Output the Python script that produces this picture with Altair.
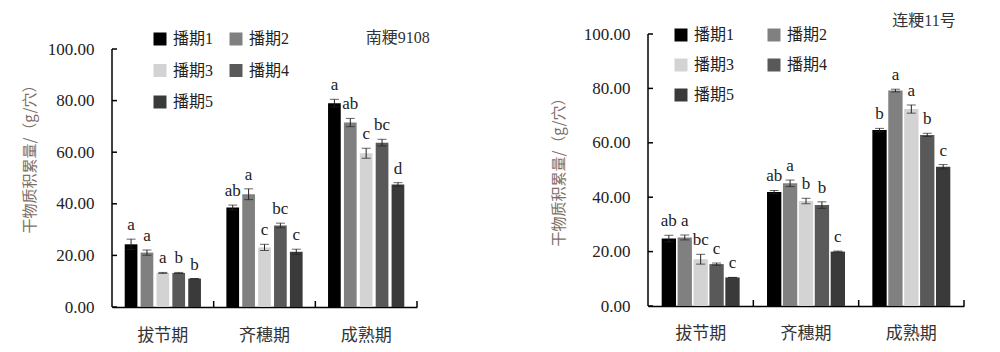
import altair as alt
import pandas as pd

stages = ["拔节期", "齐穗期", "成熟期"]
dates = ["播期1", "播期2", "播期3", "播期4", "播期5"]
colors = ["#000000", "#808080", "#d3d3d3", "#595959", "#3a3a3a"]
y_ticks = [0, 20, 40, 60, 80, 100]
y_title = "干物质积累量/（g/穴）"

left_name = "南粳9108"
left_means = [[24.3, 21.1, 13.2, 13.2, 11.0],
              [38.6, 43.7, 23.1, 31.6, 21.4],
              [79.0, 71.5, 59.6, 63.7, 47.5]]
left_errs = [[2.0, 1.0, 0.2, 0.2, 0.0],
             [0.9, 2.1, 1.2, 0.9, 1.0],
             [1.5, 1.6, 1.9, 1.3, 0.7]]
left_letters = [["a", "a", "a", "b", "b"],
                ["ab", "a", "c", "bc", "c"],
                ["a", "ab", "c", "bc", "d"]]

right_name = "连粳11号"
right_means = [[24.8, 25.2, 17.2, 15.4, 10.5],
               [41.9, 45.1, 38.6, 37.1, 20.0],
               [64.7, 79.2, 72.4, 62.9, 51.2]]
right_errs = [[1.2, 0.9, 1.8, 0.4, 0.0],
              [0.6, 1.2, 1.0, 1.2, 0.2],
              [0.6, 0.5, 1.5, 0.6, 0.8]]
right_letters = [["ab", "a", "bc", "c", "c"],
                 ["ab", "a", "b", "b", "c"],
                 ["b", "a", "a", "b", "c"]]

FONT = "Liberation Serif, Noto Sans CJK SC"
CJK = "Noto Sans CJK SC"
TXT = "#222222"


def make_df(means, errs, letters):
    rows = []
    for i, s in enumerate(stages):
        for j, d in enumerate(dates):
            m = means[i][j]
            e = errs[i][j]
            rows.append(dict(stage=s, date=d, mean=m, lo=m - e, hi=m + e,
                             letter=letters[i][j]))
    return pd.DataFrame(rows)


def panel(df, name, width, height, ymax, pin, pout, lx, ly, colpad, rowpad,
          tpad, ty, tdx, toff, xlp):
    xaxis = alt.Axis(title=None, labelAngle=0, domain=True, domainColor="black",
                     domainWidth=1.5, ticks=False, tickSize=0, labelPadding=xlp,
                     labelFont=CJK, labelFontSize=17, labelColor="#333333")
    xscale = alt.Scale(paddingInner=0, paddingOuter=0)
    yaxis = alt.Axis(values=y_ticks, format=".2f", domain=False, ticks=False,
                     grid=False, title=y_title, titleFont=CJK, titleFontSize=15,
                     titleFontWeight="normal", titleColor="#7d6e66",
                     titlePadding=tpad, titleY=ty, labelFont="Liberation Serif",
                     labelFontSize=17, labelPadding=18, labelColor=TXT)
    yscale = alt.Scale(domain=[0, ymax], nice=False, zero=True)

    def X(band=None):
        if band is None:
            return alt.X("stage:N", sort=stages, scale=xscale, axis=xaxis)
        return alt.X("stage:N", sort=stages, scale=xscale, axis=xaxis,
                     bandPosition=band)

    def Y(field):
        return alt.Y(field, scale=yscale, axis=yaxis)

    xo = alt.XOffset("date:N", sort=dates,
                     scale=alt.Scale(paddingInner=pin, paddingOuter=pout))

    base = alt.Chart(df)
    bars = base.mark_bar().encode(
        x=X(), xOffset=xo, y=Y("mean:Q"),
        color=alt.Color("date:N", sort=dates,
                        scale=alt.Scale(domain=dates, range=colors),
                        legend=alt.Legend(title=None, orient="none", legendX=lx,
                                          legendY=ly, columns=2,
                                          direction="horizontal",
                                          symbolType="square", symbolSize=169,
                                          symbolStrokeWidth=0, labelFont=FONT,
                                          labelFontSize=16, labelColor=TXT,
                                          labelOffset=5, rowPadding=rowpad,
                                          columnPadding=colpad, padding=0)))
    err = base.mark_rule(color=TXT, strokeWidth=1).encode(
        x=X(), xOffset=xo, y=Y("lo:Q"), y2="hi:Q")
    cap_hi = base.mark_tick(color=TXT, thickness=1, size=9).encode(
        x=X(), xOffset=xo, y=Y("hi:Q"))
    cap_lo = base.mark_tick(color=TXT, thickness=1, size=9).encode(
        x=X(), xOffset=xo, y=Y("lo:Q"))
    txt = base.mark_text(font="Liberation Serif", fontSize=17,
                         baseline="alphabetic", dy=-9, color=TXT).encode(
        x=X(), xOffset=xo, y=Y("hi:Q"), text="letter:N")

    yline = alt.Chart(pd.DataFrame({"y0": [0], "y1": [100]})).mark_rule(
        color="black", strokeWidth=1.5).encode(
        x=alt.value(0), y=Y("y0:Q"), y2="y1:Q")
    yt = alt.Chart(pd.DataFrame({"t": y_ticks})).mark_rule(
        color="black", strokeWidth=1.5).encode(
        x=alt.value(0), x2=alt.value(5), y=Y("t:Q"))
    xt = alt.Chart(pd.DataFrame({"stage": stages})).mark_rule(
        color="black", strokeWidth=1.5).encode(
        x=X(1), y=alt.value(height), y2=alt.value(height - 6))

    return alt.layer(bars, err, cap_hi, cap_lo, txt, yline, yt, xt).properties(
        width=width, height=height,
        title=alt.TitleParams(text=name, anchor="end", dx=tdx, offset=toff,
                              font=FONT, fontSize=16, fontWeight="normal",
                              color="#333333", baseline="middle"))


left = panel(make_df(left_means, left_errs, left_letters), left_name,
             305, 297, 297 / 2.58, 0.2, 0.8, 40, 21, 14, 15.5, 10, 145, 12, -44, 20)
right = panel(make_df(right_means, right_errs, right_letters), right_name,
              316, 296, 296 / 2.72, 0.1, 0.86, 25, 17, 31, 14, 17, 158, -9, -27, 19)

chart = alt.hconcat(left, right, spacing=231, bounds="flush").resolve_scale(
    x="independent", y="independent", color="independent",
    xOffset="independent").resolve_legend(color="independent").properties(
    padding={"left": 22, "top": 10, "right": 5, "bottom": 5}
).configure_view(stroke=None)

chart.save("out.html", embed_options={"renderer": "svg", "actions": False})
